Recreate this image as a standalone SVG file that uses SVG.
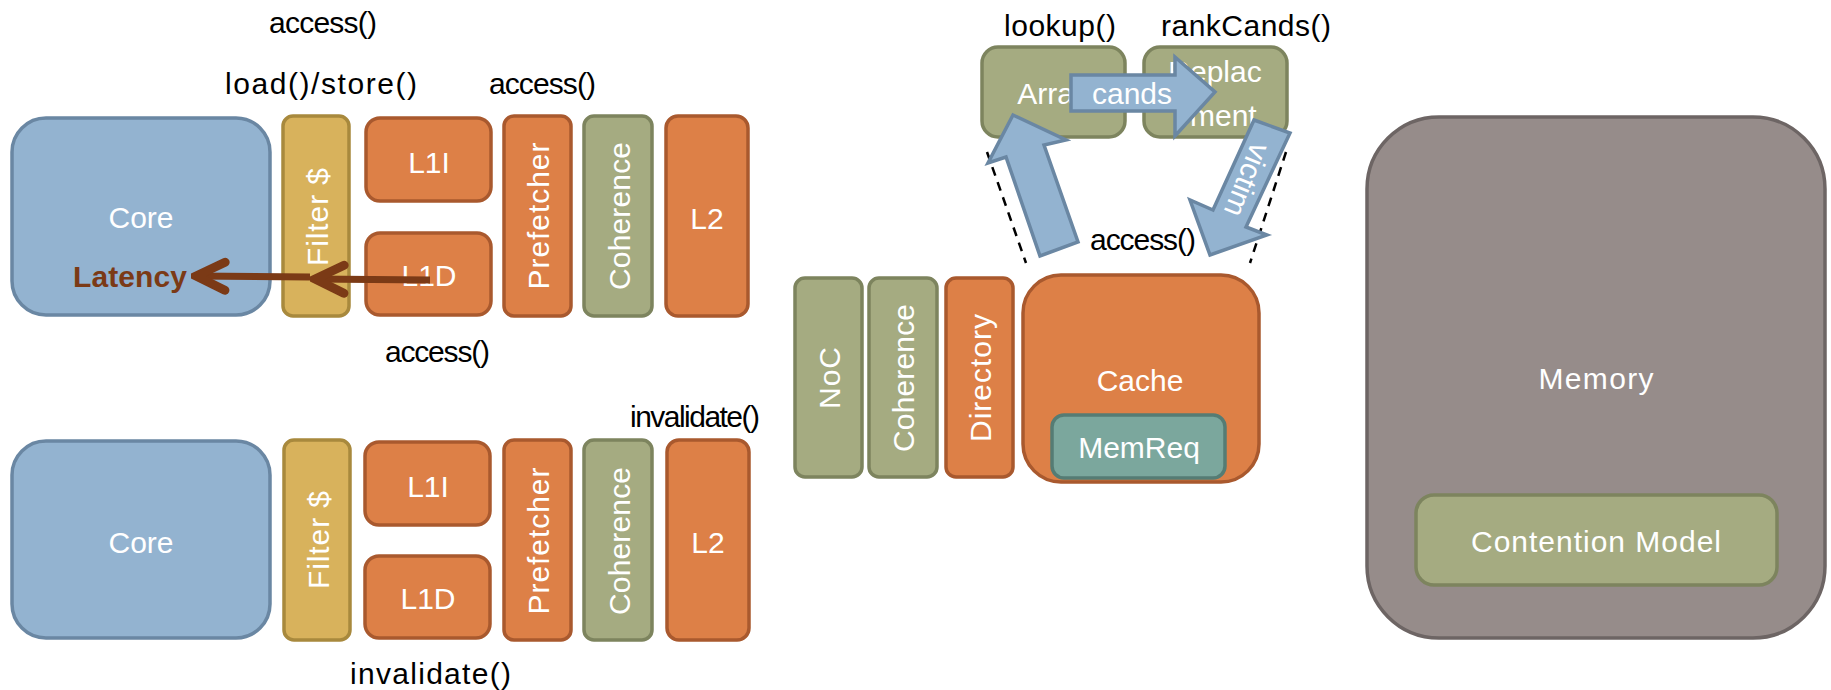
<svg xmlns="http://www.w3.org/2000/svg" width="1831" height="690" viewBox="0 0 1831 690">
<style>
.box{stroke-width:3.5}
.blue{fill:#93B3D0;stroke:#6A87A3}
.gold{fill:#D8B25C;stroke:#A8893D}
.org{fill:#DD8047;stroke:#A9592E}
.grn{fill:#A5AB81;stroke:#7D845E}
.mem{fill:#968C8A;stroke:#6D6564}
.teal{fill:#7BA79D;stroke:#557C74}
.t{font-family:"Liberation Sans",Arial,sans-serif;fill:#FFFFFF;font-size:30px;text-anchor:middle}
.lbl{font-family:"Liberation Sans",Arial,sans-serif;fill:#000000;font-size:30px}
.barrow{fill:#93B3D0;stroke:#6A87A3;stroke-width:3.5;stroke-linejoin:miter}
.brown{stroke:#7B3A16;stroke-width:7;fill:none;stroke-linecap:butt}
.dash{stroke:#000;stroke-width:2.5;stroke-dasharray:9 7;fill:none}
</style>
<defs>
<marker id="chev" markerUnits="userSpaceOnUse" viewBox="0 0 40 40" refX="36" refY="20" markerWidth="40" markerHeight="40" orient="auto">
<path d="M6,6 L35,20 L6,34" fill="none" stroke="#7B3A16" stroke-width="9" stroke-linecap="round" stroke-linejoin="miter"/>
</marker>
</defs>
<rect width="1831" height="690" fill="#FFFFFF"/>

<!-- labels -->
<g id="labels">
<text class="lbl" x="269" y="33" textLength="108">access()</text>
<text class="lbl" x="225" y="94" textLength="192">load()/store()</text>
<text class="lbl" x="489" y="94" textLength="107">access()</text>
<text class="lbl" x="385" y="362" textLength="105">access()</text>
<text class="lbl" x="630" y="427" textLength="130">invalidate()</text>
<text class="lbl" x="350" y="684" textLength="161">invalidate()</text>
<text class="lbl" x="1004" y="36" textLength="112">lookup()</text>
<text class="lbl" x="1161" y="36" textLength="170">rankCands()</text>
<text class="lbl" x="1090" y="250" textLength="106">access()</text>
</g>

<!-- top core tile -->
<g id="core1"><rect class="box blue" x="12" y="118" width="258" height="197" rx="34"/><text class="t" x="141" y="228">Core</text></g>
<g id="filter1"><rect class="box gold" x="283" y="116" width="66" height="200" rx="10"/><text class="t" transform="translate(317,217) rotate(-90)" dy="11" textLength="98">Filter $</text></g>
<g id="l1i1"><rect class="box org" x="366" y="118" width="125" height="83" rx="14"/><text class="t" x="429" y="173">L1I</text></g>
<g id="l1d1"><rect class="box org" x="366" y="233" width="125" height="82" rx="14"/><text class="t" x="429" y="286">L1D</text></g>
<g id="pref1"><rect class="box org" x="504" y="116" width="67" height="200" rx="10"/><text class="t" transform="translate(538,216) rotate(-90)" dy="11" textLength="147">Prefetcher</text></g>
<g id="coh1"><rect class="box grn" x="584" y="116" width="68" height="200" rx="10"/><text class="t" transform="translate(619,216) rotate(-90)" dy="11" textLength="148">Coherence</text></g>
<g id="l2_1"><rect class="box org" x="666" y="116" width="82" height="200" rx="12"/><text class="t" x="707" y="229">L2</text></g>

<!-- bottom core tile -->
<g id="core2"><rect class="box blue" x="12" y="441" width="258" height="197" rx="34"/><text class="t" x="141" y="553">Core</text></g>
<g id="filter2"><rect class="box gold" x="284" y="440" width="66" height="200" rx="10"/><text class="t" transform="translate(318,540) rotate(-90)" dy="11" textLength="98">Filter $</text></g>
<g id="l1i2"><rect class="box org" x="365" y="442" width="125" height="83" rx="14"/><text class="t" x="428" y="497">L1I</text></g>
<g id="l1d2"><rect class="box org" x="365" y="556" width="125" height="82" rx="14"/><text class="t" x="428" y="609">L1D</text></g>
<g id="pref2"><rect class="box org" x="504" y="440" width="67" height="200" rx="10"/><text class="t" transform="translate(538,541) rotate(-90)" dy="11" textLength="147">Prefetcher</text></g>
<g id="coh2"><rect class="box grn" x="584" y="440" width="68" height="200" rx="10"/><text class="t" transform="translate(619,541) rotate(-90)" dy="11" textLength="148">Coherence</text></g>
<g id="l2_2"><rect class="box org" x="667" y="440" width="82" height="200" rx="12"/><text class="t" x="708" y="553">L2</text></g>

<!-- shared -->
<g id="noc"><rect class="box grn" x="795" y="278" width="67" height="199" rx="10"/><text class="t" transform="translate(829,378) rotate(-90)" dy="11" textLength="62">NoC</text></g>
<g id="coh3"><rect class="box grn" x="869" y="278" width="68" height="199" rx="10"/><text class="t" transform="translate(903,378) rotate(-90)" dy="11" textLength="148">Coherence</text></g>
<g id="dir"><rect class="box org" x="946" y="278" width="67" height="199" rx="10"/><text class="t" transform="translate(980,378) rotate(-90)" dy="11" textLength="128">Directory</text></g>
<g id="cache"><rect class="box org" x="1023" y="275" width="236" height="207" rx="38"/><text class="t" x="1140" y="391">Cache</text></g>
<g id="memreq"><rect class="box teal" x="1052" y="415" width="173" height="63" rx="12"/><text class="t" x="1139" y="458">MemReq</text></g>

<g id="array"><rect class="box grn" x="982" y="47" width="143" height="90" rx="16"/><text class="t" x="1053" y="104">Array</text></g>
<g id="repl"><rect class="box grn" x="1144" y="47" width="143" height="90" rx="16"/><text class="t" x="1215" y="82">Replac<tspan x="1215" y="126">ement</tspan></text></g>

<g id="memory"><rect class="box mem" x="1367" y="117" width="458" height="521" rx="72"/><text class="t" x="1596" y="389" textLength="115">Memory</text></g>
<g id="contention"><rect class="box grn" x="1416" y="495" width="361" height="90" rx="18"/><text class="t" x="1596" y="552" textLength="250">Contention Model</text></g>

<!-- connectors -->
<g id="connectors">
<line class="dash" x1="987" y1="152" x2="1026" y2="263"/>
<line class="dash" x1="1286" y1="152" x2="1250" y2="263"/>
<polygon class="barrow" points="1071,75 1175,75 1175,57 1215,92 1175,136 1175,111 1071,111"/>
<text class="t" x="1132" y="104">cands</text>
<polygon class="barrow" points="1013,115 1066,140 1044,145 1078,242 1040,256 1006,157 988,163"/>
<polygon class="barrow" points="1254,120 1290,133 1246,227 1267,235 1210,255 1190,200 1213,210"/>
<text class="t" transform="translate(1247,180) rotate(112)" dy="10">victim</text>
<line class="brown" x1="430" y1="280" x2="314" y2="279" marker-end="url(#chev)"/>
<line class="brown" x1="310" y1="277" x2="195" y2="276" marker-end="url(#chev)"/>
<text x="73" y="287" font-family="Liberation Sans,Arial,sans-serif" font-weight="bold" font-size="30" fill="#7B3A16" textLength="114">Latency</text>
</g>
</svg>
